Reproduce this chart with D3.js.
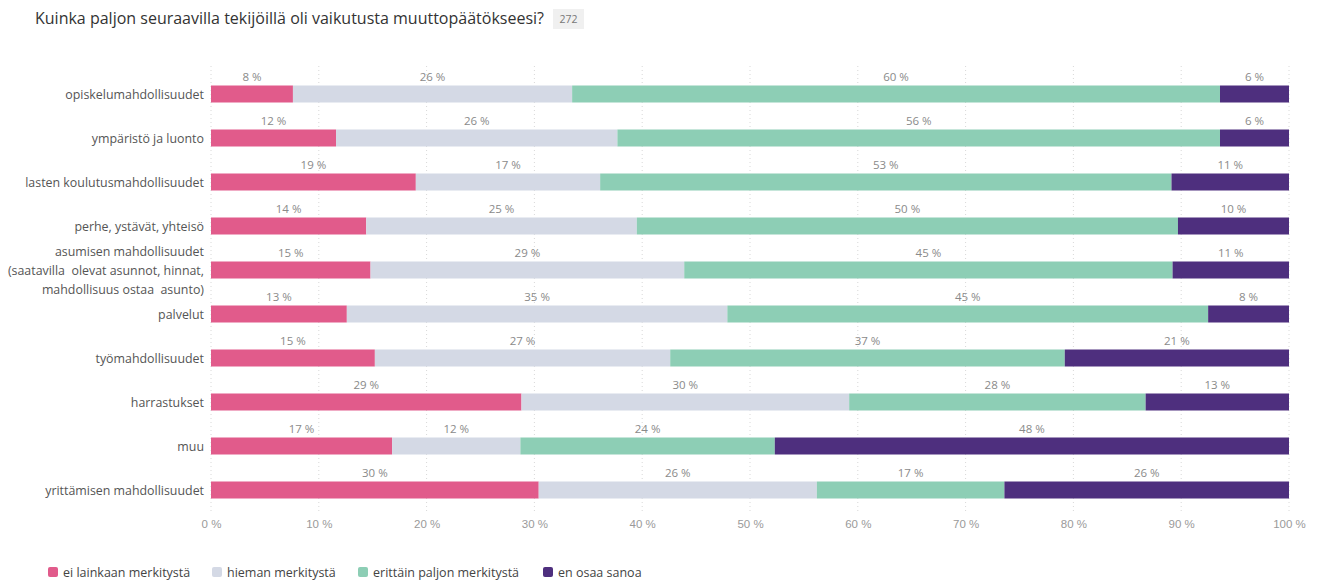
<!DOCTYPE html>
<html>
<head>
<meta charset="utf-8">
<script src="https://cdn.jsdelivr.net/npm/d3@7"></script>
<style>
  body { margin: 0; background: #fff; font-family: "Open Sans", sans-serif; }
  .grid line { stroke: #d8d8d8; stroke-dasharray: 1,3; }
  .cat-label { fill: #555; font-size: 12.4px; white-space: pre; }
  .val-label { fill: #8a8a8a; font-size: 11.5px; }
  .x-axis text { fill: #9a9a9a; font-size: 11.5px; }
  .legend text { fill: #444; font-size: 12.5px; }
</style>
</head>
<body>
<div id="chart"></div>
<script>
const svgWidth = 1318;
const svgHeight = 582;

const margin = { top: 72, right: 29, bottom: 70, left: 211 };
const width = svgWidth - margin.left - margin.right;

// categories (rows), top to bottom
const categories = [
  ["opiskelumahdollisuudet"],
  ["ympäristö ja luonto"],
  ["lasten koulutusmahdollisuudet"],
  ["perhe, ystävät, yhteisö"],
  ["asumisen mahdollisuudet", "(saatavilla  olevat asunnot, hinnat,", "mahdollisuus ostaa  asunto)"],
  ["palvelut"],
  ["työmahdollisuudet"],
  ["harrastukset"],
  ["muu"],
  ["yrittämisen mahdollisuudet"]
];

const seriesNames = ["ei lainkaan merkitystä", "hieman merkitystä", "erittäin paljon merkitystä", "en osaa sanoa"];
const seriesColors = ["#e15b8b", "#d4d9e5", "#8dceb5", "#4e2f7e"];

// shares in %, one array per series
const eiLainkaan = [7.6, 11.6, 19.0, 14.4, 14.8, 12.6, 15.2, 28.8, 16.8, 30.4];
const hieman     = [25.9, 26.1, 17.1, 25.1, 29.1, 35.3, 27.4, 30.4, 11.9, 25.8];
const erittain   = [60.1, 55.9, 53.0, 50.2, 45.3, 44.6, 36.6, 27.5, 23.6, 17.4];
const enOsaa     = [6.4, 6.4, 10.9, 10.3, 10.8, 7.5, 20.8, 13.3, 47.7, 26.4];

const xTicks = [0, 10, 20, 30, 40, 50, 60, 70, 80, 90, 100];

const rows = categories.map((c, i) => ({
  lines: c,
  values: [eiLainkaan[i], hieman[i], erittain[i], enOsaa[i]]
}));

const svg = d3.select("#chart").append("svg")
  .attr("width", svgWidth)
  .attr("height", svgHeight);

// title + response count badge
svg.append("text")
  .attr("x", 35).attr("y", 24)
  .attr("fill", "#333")
  .style("font-size", "16px")
  .text("Kuinka paljon seuraavilla tekijöillä oli vaikutusta muuttopäätökseesi?")
  .each(function() {
    const w = this.getComputedTextLength();
    svg.append("rect")
      .attr("x", 35 + w + 9).attr("y", 9)
      .attr("width", 31).attr("height", 20)
      .attr("fill", "#f0f0f0");
    svg.append("text")
      .attr("x", 35 + w + 24.5).attr("y", 23)
      .attr("text-anchor", "middle")
      .attr("fill", "#777")
      .style("font-size", "10.5px")
      .text("272");
  });

const chartGroup = svg.append("g")
  .attr("transform", `translate(${margin.left}, 0)`);

const x = d3.scaleLinear().domain([0, 100]).range([0, width]);
const y = d3.scaleBand()
  .domain(d3.range(rows.length))
  .range([72, 512]);

// dotted grid
chartGroup.append("g").attr("class", "grid")
  .selectAll("line")
  .data(xTicks)
  .join("line")
  .attr("x1", d => x(d)).attr("x2", d => x(d))
  .attr("y1", 66).attr("y2", 512);

// x axis labels
const xAxis = chartGroup.append("g")
  .attr("class", "x-axis")
  .attr("transform", "translate(0, 512)")
  .call(d3.axisBottom(x).tickValues(xTicks).tickSize(0).tickPadding(8).tickFormat(d => d + " %"));
xAxis.select(".domain").remove();

const barH = 17;

const rowG = chartGroup.selectAll(".row")
  .data(rows)
  .join("g")
  .attr("class", "row")
  .attr("transform", (d, i) => `translate(0, ${y(i) + y.bandwidth() / 2})`);

// category labels
rowG.append("text")
  .attr("class", "cat-label")
  .attr("x", -7)
  .attr("text-anchor", "end")
  .selectAll("tspan")
  .data(d => d.lines.map((l, k) => ({ l, k, n: d.lines.length })))
  .join("tspan")
  .attr("x", -7)
  .attr("y", d => (d.k - (d.n - 1) / 2) * 19 + 4.5)
  .text(d => d.l);

// segments + value labels
rowG.each(function(d) {
  const g = d3.select(this);
  let acc = 0;
  const segs = d.values.map((v, s) => {
    const seg = { s, v, x0: acc, x1: acc + v };
    acc += v;
    return seg;
  });
  g.selectAll(".seg")
    .data(segs)
    .join("rect")
    .attr("class", "seg")
    .attr("x", e => x(e.x0))
    .attr("y", -barH / 2)
    .attr("width", e => x(e.x1) - x(e.x0))
    .attr("height", barH)
    .attr("fill", e => seriesColors[e.s]);
  g.selectAll(".val-label")
    .data(segs)
    .join("text")
    .attr("class", "val-label")
    .attr("x", e => x((e.x0 + e.x1) / 2))
    .attr("y", -13)
    .attr("text-anchor", "middle")
    .text(e => Math.round(e.v) + " %");
});

// legend
const legendX = [48, 212, 358, 543];
const legend = svg.append("g").attr("class", "legend")
  .selectAll("g")
  .data(seriesNames)
  .join("g")
  .attr("transform", (d, i) => `translate(${legendX[i]}, 572)`);
legend.append("rect")
  .attr("x", 0).attr("y", -5)
  .attr("width", 10).attr("height", 10)
  .attr("rx", 2)
  .attr("fill", (d, i) => seriesColors[i]);
legend.append("text")
  .attr("x", 15).attr("y", 4.5)
  .text(d => d);
</script>
</body>
</html>
